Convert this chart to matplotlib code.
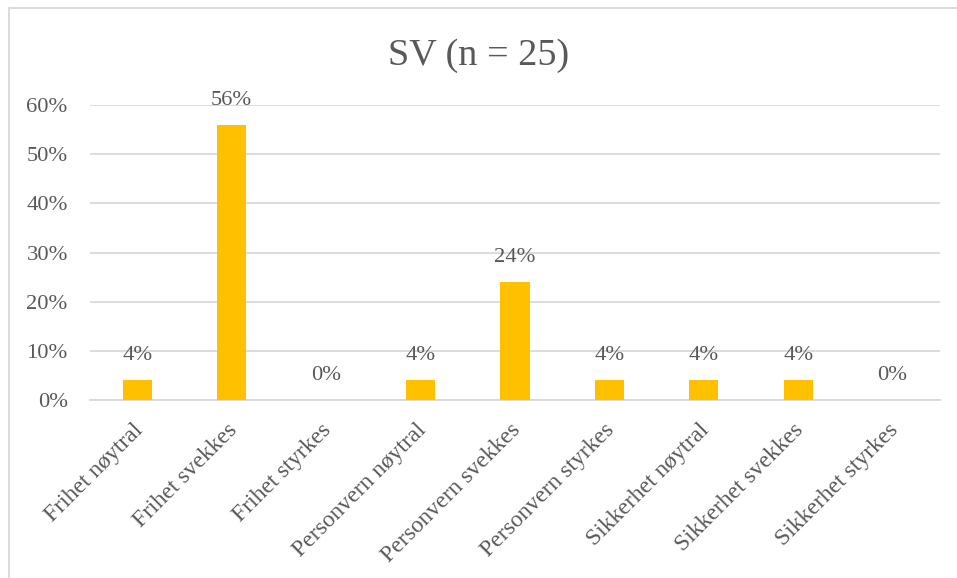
import matplotlib
matplotlib.use("Agg")
import matplotlib.pyplot as plt
import matplotlib.transforms as mtransforms
from matplotlib.ticker import PercentFormatter
from matplotlib.patches import Rectangle

categories = [
    "Frihet nøytral", "Frihet svekkes", "Frihet styrkes",
    "Personvern nøytral", "Personvern svekkes", "Personvern styrkes",
    "Sikkerhet nøytral", "Sikkerhet svekkes", "Sikkerhet styrkes",
]
shares = [0.04, 0.56, 0.00, 0.04, 0.24, 0.04, 0.04, 0.04, 0.00]
title = "SV (n = 25)"

plt.rcParams["font.family"] = ["Liberation Serif", "DejaVu Serif"]
TEXT = "#595959"
GRID = "#D9D9D9"
BAR = "#FFC000"

fig = plt.figure(figsize=(9.57, 5.78), dpi=100)
ax = fig.add_axes([0.094, 0.308, 0.888, 0.510])

x = range(len(categories))
ax.bar(x, shares, width=0.31, color=BAR, zorder=3)

for xi, v in zip(x, shares):
    ax.annotate(f"{v*100:.0f}%", (xi, v), xytext=(0, 11.0), textcoords="offset points",
                ha="center", va="bottom", fontsize=16.2, color=TEXT)

ax.set_xlim(-0.5, len(categories) - 0.5)
ax.set_ylim(0, 0.6)
ax.set_yticks([0, 0.1, 0.2, 0.3, 0.4, 0.5, 0.6])
ax.yaxis.set_major_formatter(PercentFormatter(1.0, decimals=0))
ax.grid(axis="y", color=GRID, linewidth=1.3, zorder=0)
for s in ["top", "right", "left"]:
    ax.spines[s].set_visible(False)
ax.spines["bottom"].set_color(GRID)
ax.spines["bottom"].set_linewidth(1.3)
ax.spines["bottom"].set_zorder(1)

ax.tick_params(axis="both", length=0, colors=TEXT, labelsize=16.2)
ax.tick_params(axis="y", pad=16)
ax.set_xticks(list(x))
ax.set_xticklabels(categories, rotation=45, ha="right", va="top",
                   rotation_mode="anchor", fontsize=17, color=TEXT)
ax.tick_params(axis="x", pad=14)

# nudge the slanted category labels slightly to the left
shift = mtransforms.ScaledTranslation(-5 / 100, 0, fig.dpi_scale_trans)
for lbl in ax.get_xticklabels():
    lbl.set_transform(lbl.get_transform() + shift)

fig.text(0.5, 0.903, title, ha="center", va="center", fontsize=27.5, color=TEXT)

# outer chart frame
fig.patches.append(Rectangle((9 / 957, -0.1), 1.2, 1 - 8 / 578 + 0.1,
                             transform=fig.transFigure, fill=False,
                             edgecolor=GRID, linewidth=1.3))

fig.savefig("out.png", dpi=100)
